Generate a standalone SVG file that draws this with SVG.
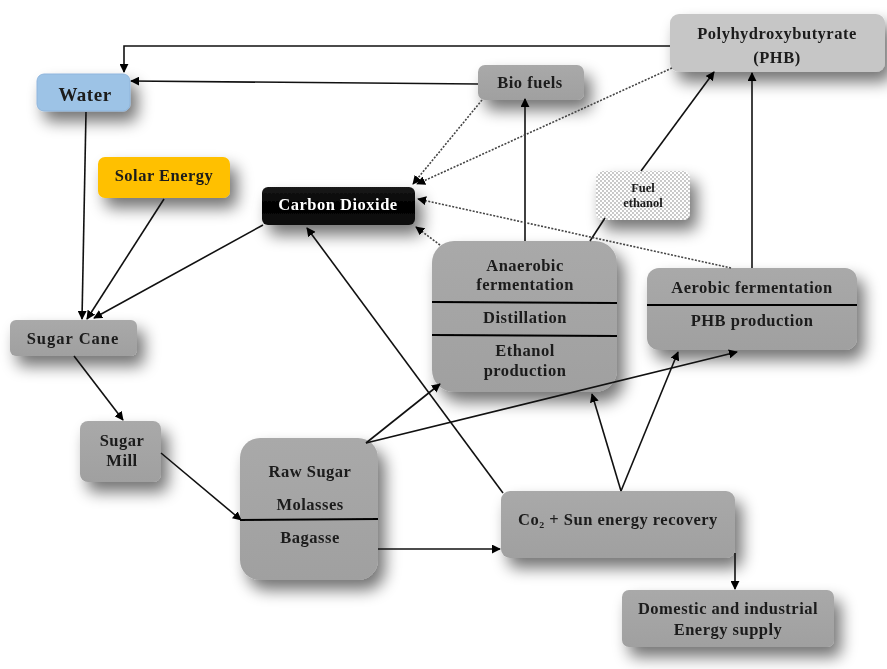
<svg xmlns="http://www.w3.org/2000/svg" width="887" height="669" viewBox="0 0 887 669">
<defs>
<filter id="sh" x="-40%" y="-60%" width="190%" height="240%">
<feGaussianBlur in="SourceAlpha" stdDeviation="8"/>
<feOffset dx="7" dy="10" result="b"/>
<feComponentTransfer><feFuncA type="linear" slope="0.55"/></feComponentTransfer>
<feMerge><feMergeNode/><feMergeNode in="SourceGraphic"/></feMerge>
</filter>
<linearGradient id="gray" x1="0" y1="0" x2="0" y2="1">
<stop offset="0" stop-color="#a9a9a9"/><stop offset="1" stop-color="#a0a0a0"/>
</linearGradient>
<linearGradient id="blk" x1="0" y1="0" x2="0" y2="1">
<stop offset="0" stop-color="#1a1a1a"/><stop offset="0.5" stop-color="#000"/><stop offset="1" stop-color="#111"/>
</linearGradient>
<pattern id="dots" width="4" height="4" patternUnits="userSpaceOnUse">
<rect width="4" height="4" fill="#fff"/>
<circle cx="1" cy="1" r="0.9" fill="#b0b0b0"/>
<circle cx="3" cy="3" r="0.9" fill="#b0b0b0"/>
</pattern>
<marker id="ar" viewBox="0 0 10 10" refX="9" refY="5" markerWidth="9" markerHeight="9" markerUnits="userSpaceOnUse" orient="auto">
<path d="M0,0 L10,5 L0,10 z" fill="#000"/>
</marker>
</defs>
<style>
.box{fill:url(#gray);}
.t{font-family:"Liberation Serif","Times New Roman",serif;font-weight:bold;font-size:16.5px;letter-spacing:0.5px;fill:#1a1a1a;text-anchor:middle;}
.c{fill:none;stroke:#111;stroke-width:1.6;}
.d{fill:none;stroke:#444;stroke-width:1.6;stroke-dasharray:2 1.5;}
.sep{stroke:#000;stroke-width:2;}
</style>
<rect width="887" height="669" fill="#fff"/>

<g id="water" filter="url(#sh)">
<rect x="37" y="74" width="93" height="37" rx="7" fill="#9dc3e6" stroke="#8fb5dc"/>
<text class="t" x="85" y="101" style="font-size:19px">Water</text>
</g>
<g id="solar" filter="url(#sh)">
<rect x="98" y="157" width="132" height="41" rx="7" fill="#ffc000"/>
<text class="t" x="164" y="181">Solar Energy</text>
</g>
<g id="co2" filter="url(#sh)">
<rect x="262" y="187" width="153" height="38" rx="6" fill="url(#blk)"/>
<text class="t" x="338" y="210" style="fill:#fff">Carbon Dioxide</text>
</g>
<g id="biofuels" filter="url(#sh)">
<rect x="478" y="65" width="106" height="35" rx="7" class="box"/>
<text class="t" x="530" y="88">Bio fuels</text>
</g>
<g id="phb" filter="url(#sh)">
<rect x="670" y="14" width="215" height="58" rx="9" fill="#c6c6c6"/>
<text class="t" x="777" y="39">Polyhydroxybutyrate</text>
<text class="t" x="777" y="63">(PHB)</text>
</g>
<g id="fuelethanol" filter="url(#sh)">
<rect x="596" y="171" width="94" height="49" rx="7" fill="url(#dots)"/>
<text class="t" x="643" y="192" style="font-size:12.5px;letter-spacing:0">Fuel</text>
<text class="t" x="643" y="207" style="font-size:12.5px;letter-spacing:0">ethanol</text>
</g>
<g id="anaerobic" filter="url(#sh)">
<rect x="432" y="241" width="185" height="151" rx="22" class="box"/>
<line class="sep" x1="432" y1="302" x2="617" y2="303"/>
<line class="sep" x1="432" y1="335" x2="617" y2="336"/>
<text class="t" x="525" y="271">Anaerobic</text>
<text class="t" x="525" y="290">fermentation</text>
<text class="t" x="525" y="323">Distillation</text>
<text class="t" x="525" y="356">Ethanol</text>
<text class="t" x="525" y="376">production</text>
</g>
<g id="aerobic" filter="url(#sh)">
<rect x="647" y="268" width="210" height="82" rx="12" class="box"/>
<line class="sep" x1="647" y1="305" x2="857" y2="305"/>
<text class="t" x="752" y="293">Aerobic fermentation</text>
<text class="t" x="752" y="326">PHB production</text>
</g>
<g id="sugarcane" filter="url(#sh)">
<rect x="10" y="320" width="127" height="36" rx="6" class="box"/>
<text class="t" x="73" y="344" style="letter-spacing:1px">Sugar Cane</text>
</g>
<g id="sugarmill" filter="url(#sh)">
<rect x="80" y="421" width="81" height="61" rx="8" class="box"/>
<text class="t" x="122" y="446">Sugar</text>
<text class="t" x="122" y="466">Mill</text>
</g>
<g id="rawsugar" filter="url(#sh)">
<rect x="240" y="438" width="138" height="142" rx="20" class="box"/>
<line class="sep" x1="240" y1="520" x2="378" y2="519"/>
<text class="t" x="310" y="477">Raw Sugar</text>
<text class="t" x="310" y="510">Molasses</text>
<text class="t" x="310" y="543">Bagasse</text>
</g>
<g id="recovery" filter="url(#sh)">
<rect x="501" y="491" width="234" height="67" rx="9" class="box"/>
<text class="t" x="618" y="525">Co₂ + Sun energy recovery</text>
</g>
<g id="domestic" filter="url(#sh)">
<rect x="622" y="590" width="212" height="57" rx="7" class="box"/>
<text class="t" x="728" y="614">Domestic and industrial</text>
<text class="t" x="728" y="635">Energy supply</text>
</g>

<g id="connectors">
<polyline class="c" points="670,46 124,46 124,72" marker-end="url(#ar)"/>
<line class="c" x1="478" y1="84" x2="131" y2="81" marker-end="url(#ar)"/>
<line class="c" x1="86" y1="112" x2="82" y2="319" marker-end="url(#ar)"/>
<line class="c" x1="164" y1="199" x2="87" y2="319" marker-end="url(#ar)"/>
<line class="c" x1="263" y1="225" x2="94" y2="318" marker-end="url(#ar)"/>
<line class="c" x1="74" y1="356" x2="123" y2="420" marker-end="url(#ar)"/>
<line class="c" x1="161" y1="453" x2="241" y2="520" marker-end="url(#ar)"/>
<line class="c" x1="378" y1="549" x2="500" y2="549" marker-end="url(#ar)"/>
<line class="c" x1="366" y1="443" x2="440" y2="384" marker-end="url(#ar)"/>
<line class="c" x1="366" y1="443" x2="737" y2="352" marker-end="url(#ar)"/>
<line class="c" x1="503" y1="493" x2="307" y2="228" marker-end="url(#ar)"/>
<line class="c" x1="621" y1="491" x2="592" y2="394" marker-end="url(#ar)"/>
<line class="c" x1="621" y1="491" x2="678" y2="352" marker-end="url(#ar)"/>
<line class="c" x1="735" y1="553" x2="735" y2="589" marker-end="url(#ar)"/>
<line class="c" x1="525" y1="241" x2="525" y2="99" marker-end="url(#ar)"/>
<line class="c" x1="590" y1="241" x2="605" y2="218"/>
<line class="c" x1="641" y1="171" x2="714" y2="72" marker-end="url(#ar)"/>
<line class="c" x1="752" y1="268" x2="752" y2="73" marker-end="url(#ar)"/>
<line class="d" x1="482" y1="100" x2="413" y2="184" marker-end="url(#ar)"/>
<line class="d" x1="672" y1="68" x2="417" y2="184" marker-end="url(#ar)"/>
<line class="d" x1="731" y1="268" x2="418" y2="199" marker-end="url(#ar)"/>
<line class="d" x1="440" y1="245" x2="416" y2="227" marker-end="url(#ar)"/>
</g>
</svg>
